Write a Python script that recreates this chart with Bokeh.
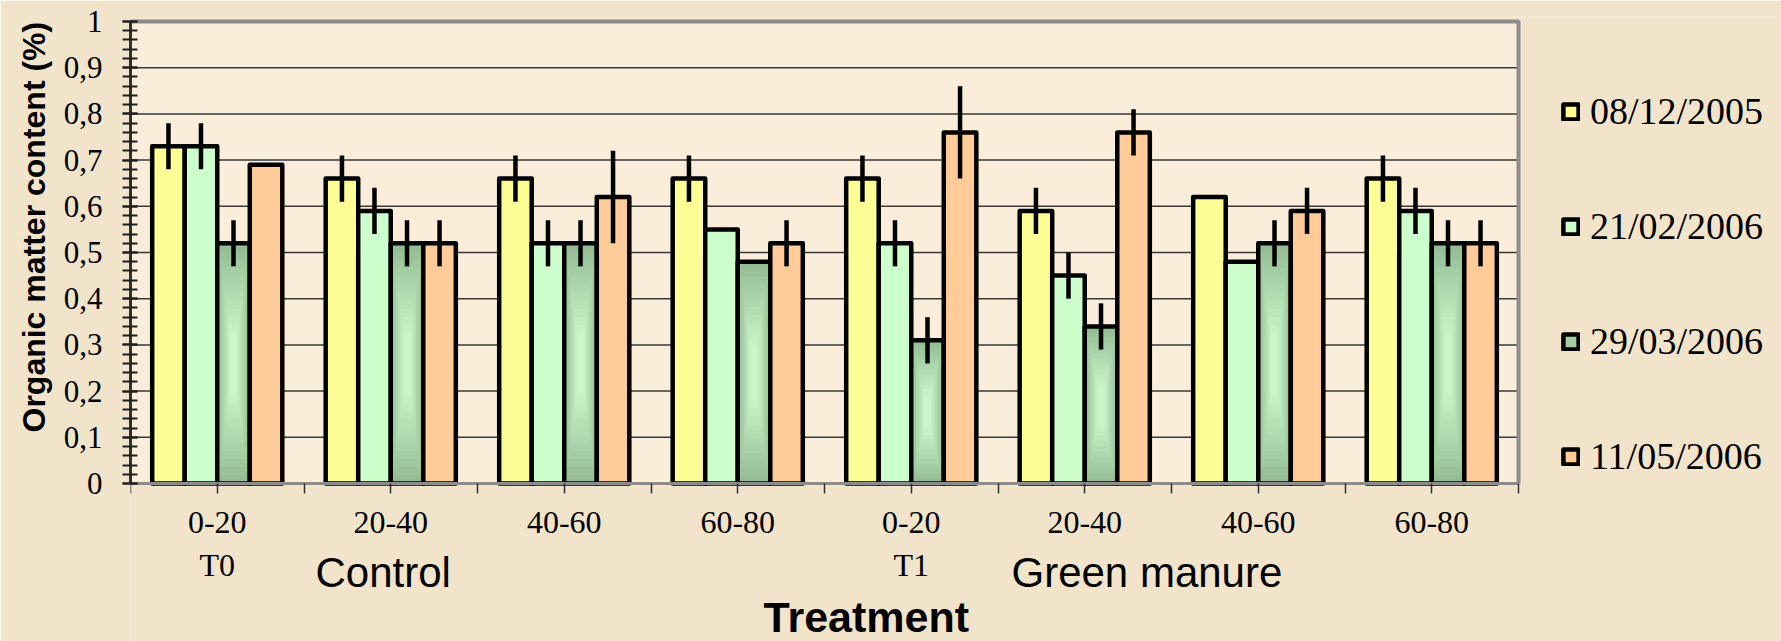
from bokeh.plotting import figure
from bokeh.models import (Range1d, FixedTicker, CustomJSTickFormatter, Legend,
                          LegendItem, Label, ColumnDataSource, Title)
from bokeh.embed import file_html
from bokeh.resources import INLINE

# ---------------- data ----------------
depths = ["0-20\nT0", "20-40", "40-60", "60-80", "0-20\nT1", "20-40", "40-60", "60-80"]
treatments = ["Control", "Green manure"]
dates = ["08/12/2005", "21/02/2006", "29/03/2006", "11/05/2006"]

om_0812_2005 = [0.73, 0.66, 0.66, 0.66, 0.66, 0.59, 0.62, 0.66]
om_2102_2006 = [0.73, 0.59, 0.52, 0.55, 0.52, 0.45, 0.48, 0.59]
om_2903_2006 = [0.52, 0.52, 0.52, 0.48, 0.31, 0.34, 0.52, 0.52]
om_1105_2006 = [0.69, 0.52, 0.62, 0.52, 0.76, 0.76, 0.59, 0.52]

err_0812_2005 = [0.05, 0.05, 0.05, 0.05, 0.05, 0.05, 0.00, 0.05]
err_2102_2006 = [0.05, 0.05, 0.05, 0.00, 0.05, 0.05, 0.00, 0.05]
err_2903_2006 = [0.05, 0.05, 0.05, 0.00, 0.05, 0.05, 0.05, 0.05]
err_1105_2006 = [0.00, 0.05, 0.10, 0.05, 0.10, 0.05, 0.05, 0.05]

y_ticks = [i / 10 for i in range(11)]

series = [om_0812_2005, om_2102_2006, om_2903_2006, om_1105_2006]
errors = [err_0812_2005, err_2102_2006, err_2903_2006, err_1105_2006]
colors = ["#FDFD96", "#CCFFCC", "#A4CCA4", "#FFCC99"]

# ---------------- geometry (pixels) ----------------
W, H = 1781, 641
LEFT, TOP_PX = 130, 21          # plot area left / top (y = 1)
PW, PH = 1388, 462              # plot area width / height (8 groups, 0..1)
BOTTOM_PX = TOP_PX + PH
ux = PW / 8.0
uy = PH / 1.0
pad_top = 4
y_start = -(H - BOTTOM_PX) / uy
y_end = 1 + pad_top / uy
x_end = (W - LEFT) / ux

OUTER = "#F1E4CB"
INNER = "#FAEEDA"

p = figure(width=W, height=H, x_range=Range1d(0, x_end), y_range=Range1d(y_start, y_end),
           output_backend="svg", toolbar_location=None, title=None,
           min_border_left=LEFT, min_border_right=0,
           min_border_top=TOP_PX - pad_top, min_border_bottom=0)
p.border_fill_color = OUTER
p.background_fill_color = OUTER
p.outline_line_color = None

n = len(depths)
centers = [i + 0.5 for i in range(n)]
bw = 0.1875
offsets = [(-1.5 + k) * bw for k in range(4)]

# plot-area background and horizontal grid lines (limited to the plot area)
p.quad(left=[0], right=[8], bottom=[0], top=[1], fill_color=INNER, line_color=None)
gy = y_ticks[1:-1]
p.segment(x0=[0] * len(gy), x1=[8] * len(gy), y0=gy, y1=gy,
          line_color="#383838", line_width=1.5)

legend_items = []
for k, (vals, errs, col) in enumerate(zip(series, errors, colors)):
    xs = [c + offsets[k] for c in centers]
    src = ColumnDataSource(dict(x=xs, top=vals))
    if k == 2:
        base = p.vbar(x="x", top="top", bottom=0, width=bw, source=src,
                      fill_color=col, line_color=None)
        N = 12
        dark = (0x94, 0xBD, 0x94)
        light = (0xCA, 0xF7, 0xCA)
        for s in range(N):
            t = s / (N - 1)
            cc = tuple(int(round(dark[i] + (light[i] - dark[i]) * t)) for i in range(3))
            hexc = "#%02X%02X%02X" % cc
            hw = bw / 2 * (1 - 0.8 * t)
            left = [x - hw for x in xs]
            right = [x + hw for x in xs]
            bottom = [v / 2 - v / 2 * (1 - 0.75 * t) for v in vals]
            topq = [v / 2 + v / 2 * (1 - 0.75 * t) for v in vals]
            p.quad(left=left, right=right, bottom=bottom, top=topq,
                   fill_color=hexc, line_color=None)
        outline = p.vbar(x="x", top="top", bottom=0, width=bw, source=src,
                         fill_color=None, line_color="black", line_width=4.5,
                         line_join="round")
        legend_items.append(LegendItem(label=dates[k], renderers=[base, outline]))
    else:
        r = p.vbar(x="x", top="top", bottom=0, width=bw, source=src,
                   fill_color=col, line_color="black", line_width=4.5,
                   line_join="round")
        legend_items.append(LegendItem(label=dates[k], renderers=[r]))

# error bars
for k, (vals, errs) in enumerate(zip(series, errors)):
    ex, e0, e1 = [], [], []
    for i in range(n):
        if errs[i] > 0:
            ex.append(centers[i] + offsets[k])
            e0.append(vals[i] - errs[i])
            e1.append(vals[i] + errs[i])
    p.segment(x0=ex, x1=ex, y0=e0, y1=e1, line_color="black", line_width=4.5)

# top and right border of the plot area
p.line(x=[0, 8, 8], y=[1, 1, 0], line_color="#8C8C8C", line_width=4)

# ---------------- axes ----------------
yax = p.yaxis[0]
yax.bounds = (0, 1)
yax.ticker = FixedTicker(ticks=y_ticks, minor_ticks=[i / 50 for i in range(51)])
yax.formatter = CustomJSTickFormatter(code="""
if (Math.abs(tick) < 1e-9) return '0';
if (Math.abs(tick - 1) < 1e-9) return '1';
return tick.toFixed(1).replace('.', ',');
""")
yax.major_label_text_font = "Liberation Serif"
yax.major_label_text_font_size = "31px"
yax.major_label_text_color = "black"
yax.major_label_standoff = 20
yax.axis_line_color = "#303030"
yax.axis_line_width = 3
yax.major_tick_in = 7
yax.major_tick_out = 8
yax.minor_tick_in = 7
yax.minor_tick_out = 8
yax.major_tick_line_color = "#202020"
yax.minor_tick_line_color = "#202020"
yax.major_tick_line_width = 2
yax.minor_tick_line_width = 2

ytitle = Title(text="Organic matter content (%)", align="left",
               offset=H - 432,
               text_font="Liberation Sans", text_font_style="bold",
               text_font_size="32px", text_color="black", standoff=17)
p.add_layout(ytitle, "left")

xax = p.xaxis[0]
xax.fixed_location = 0
xax.bounds = (0, 8)
xax.ticker = FixedTicker(ticks=centers, minor_ticks=list(range(n + 1)))
xax.major_label_overrides = {c: lab for c, lab in zip(centers, depths)}
xax.major_label_text_font = "Liberation Serif"
xax.major_label_text_font_size = "32px"
xax.major_label_text_color = "black"
xax.major_label_text_line_height = 1.2
xax.major_label_standoff = 10
xax.axis_line_color = "#8C8C8C"
xax.axis_line_width = 3
xax.major_tick_in = 0
xax.major_tick_out = 10
xax.minor_tick_in = 0
xax.minor_tick_out = 10
xax.major_tick_line_color = "#303030"
xax.minor_tick_line_color = "#303030"
xax.major_tick_line_width = 1.5
xax.minor_tick_line_width = 1.5

p.xgrid.visible = False
p.ygrid.visible = False

# treatment labels and axis title
for xpos, txt in zip([(315 - LEFT) / ux, (1011 - LEFT) / ux], treatments):
    p.add_layout(Label(x=xpos, y=(BOTTOM_PX - 572) / uy, text=txt,
                       text_font="Liberation Sans", text_font_size="42px",
                       text_color="black", text_baseline="alphabetic",
                       text_align="left"))
p.add_layout(Label(x=(763 - LEFT) / ux, y=(BOTTOM_PX - 616) / uy, text="Treatment",
                   text_font="Liberation Sans", text_font_style="bold",
                   text_font_size="43px", text_color="black",
                   text_baseline="alphabetic", text_align="left"))

# legend (inside the extended frame, right of the plot area)
legend = Legend(items=legend_items, location=(1561 - LEFT, H - 478),
                orientation="vertical",
                glyph_width=19, glyph_height=19, label_height=42, spacing=71,
                padding=0, margin=0, label_standoff=10,
                label_text_font="Liberation Serif", label_text_font_size="38px",
                label_text_color="black", border_line_color=None,
                background_fill_alpha=0)
p.add_layout(legend)

open("out.html", "w").write(file_html(p, INLINE))
